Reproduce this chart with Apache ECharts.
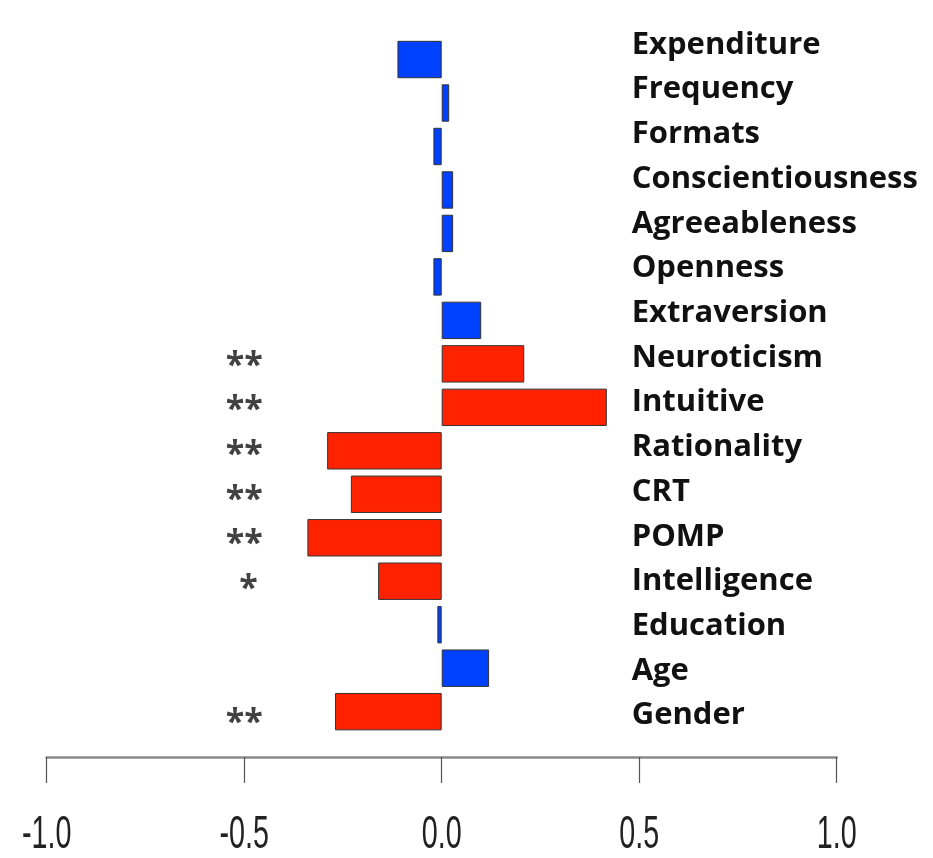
<!DOCTYPE html>
<html>
<head>
<meta charset="utf-8">
<title>Correlates</title>
<script src="https://cdn.jsdelivr.net/npm/echarts@6/dist/echarts.min.js"></script>
<style>
  html, body { margin: 0; padding: 0; background: #ffffff; }
  #chart { width: 933px; height: 858px; }
</style>
</head>
<body>
<div id="chart"></div>
<script>
// Predictor names, top to bottom
const categories = [
  'Expenditure', 'Frequency', 'Formats', 'Conscientiousness', 'Agreeableness',
  'Openness', 'Extraversion', 'Neuroticism', 'Intuitive', 'Rationality',
  'CRT', 'POMP', 'Intelligence', 'Education', 'Age', 'Gender'
];

// Coefficient for each predictor
const coefficients = [
  -0.112, 0.019, -0.021, 0.029, 0.029,
  -0.021, 0.100, 0.209, 0.418, -0.290,
  -0.230, -0.340, -0.161, -0.011, 0.120, -0.270
];

// Significance markers
const significance = [
  '', '', '', '', '',
  '', '', '**', '**', '**',
  '**', '**', ' *', '', '', '**'
];

// Axis ticks
const tickValues = [-1.0, -0.5, 0.0, 0.5, 1.0];
const tickLabels = ['-1.0', '-0.5', '0.0', '0.5', '1.0'];

const SIG_COLOR = '#ff2200';
const NS_COLOR = '#0040ff';
const LABEL_FONT = '"Open Sans", "Noto Sans", sans-serif';

const chart = echarts.init(document.getElementById('chart'), null, { renderer: 'canvas' });

const barData = coefficients.map((v, i) => ({
  value: v,
  itemStyle: { color: significance[i] ? SIG_COLOR : NS_COLOR }
}));

const starData = [];
significance.forEach((s, i) => {
  if (s) starData.push({ value: [-0.5, categories[i]], star: s });
});

const option = {
  backgroundColor: '#ffffff',
  animation: false,
  grid: [
    { left: 46.7, right: 96.3, top: 37.8, bottom: 124.6, containLabel: false },
    { left: 46.7, right: 96.3, top: 22.6, bottom: 120.1, containLabel: false }
  ],
  xAxis: [
    {
      type: 'value', gridIndex: 0, min: -1, max: 1, interval: 0.5,
      position: 'bottom', offset: 23.6,
      axisLine: { show: true, lineStyle: { color: '#8a8a8a', width: 2.5 } },
      axisTick: { show: true, length: 26, lineStyle: { color: '#555555', width: 1.2 } },
      splitLine: { show: false },
      axisLabel: { show: false }
    },
    {
      type: 'value', gridIndex: 1, min: -1, max: 1, show: false
    }
  ],
  yAxis: [
    {
      type: 'category', gridIndex: 0, data: categories, inverse: true, show: false
    },
    {
      type: 'category', gridIndex: 1, data: categories, inverse: true,
      axisLine: { show: false }, axisTick: { show: false }, splitLine: { show: false },
      axisLabel: {
        show: true, margin: -585, align: 'left',
        fontFamily: LABEL_FONT, fontWeight: 'bold', fontSize: 31, color: '#111111'
      }
    }
  ],
  series: [
    {
      type: 'bar', xAxisIndex: 0, yAxisIndex: 0,
      data: barData,
      barCategoryGap: '14%',
      itemStyle: { borderColor: '#333333', borderWidth: 1 }
    },
    {
      type: 'scatter', xAxisIndex: 1, yAxisIndex: 1,
      data: starData, symbolSize: 0,
      label: {
        show: true, position: 'inside', offset: [0, 8],
        formatter: (p) => p.data.star,
        fontFamily: LABEL_FONT, fontWeight: 'bold', fontSize: 34, color: '#111111'
      }
    }
  ]
};

chart.setOption(option);

// Tick labels in a condensed face, placed at the axis positions of their values
const tickY = 835;
chart.setOption({
  graphic: tickValues.map((v, i) => ({
    type: 'text',
    x: chart.convertToPixel({ xAxisIndex: 0 }, v),
    y: tickY,
    scaleX: 0.61,
    style: {
      text: tickLabels[i],
      font: '47px "Liberation Sans", Arial, sans-serif',
      fill: '#222222',
      textAlign: 'center',
      textVerticalAlign: 'middle'
    }
  }))
});
</script>
</body>
</html>
